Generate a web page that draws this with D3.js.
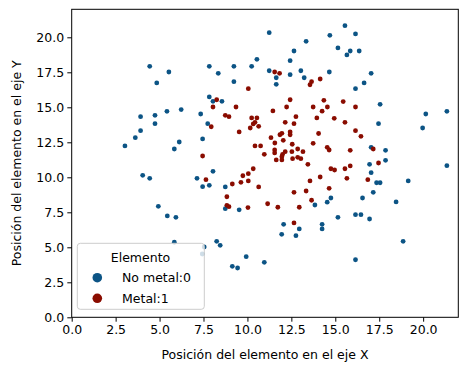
<!DOCTYPE html>
<html><head><meta charset="utf-8">
<script src="https://cdn.jsdelivr.net/npm/d3@7"></script>
<style>body{margin:0;background:#fff}svg{display:block}text{font-family:"DejaVu Sans",sans-serif}</style>
</head><body>
<script>
const xTicks=[0,2.5,5,7.5,10,12.5,15,17.5,20];
const yTicks=[0,2.5,5,7.5,10,12.5,15,17.5,20];
const legendLabels=["No metal:0","Metal:1"];
const noMetalX=[11.24,13.34,12.65,7.83,8.34,9.23,10.24,10.54,12.43,9.23,11.24,11.64,11.64,12.43,13.04,13.23,14.66,14.69,7.83,8.04,8.55,15.55,16.15,15.15,15.85,16.36,15.66,17.04,16.64,16.15,17.55,21.35,4.44,5.53,4.84,6.23,3.92,4.74,5.42,7.34,4.74,3.92,3.62,3.03,6.12,5.84,4.04,4.44,7.13,4.93,7.74,7.45,8.04,7.45,7.83,8.74,8.74,9.53,13.84,14.54,14.75,20.15,17.46,19.97,17.04,17.86,17.86,16.95,17.04,21.35,17.35,17.55,19.15,17.16,16.55,18.46,5.44,5.93,5.84,12.06,11.95,12.95,12.76,14.25,14.25,8.25,8.45,7.54,7.43,9.93,10.96,9.14,9.44,15.15,16.15,16.46,16.95,18.86,16.15];
const noMetalY=[20.33,19.71,19.02,17.93,17.43,17.93,17.93,18.43,18.33,16.83,17.61,17.11,16.64,17.33,17.61,17.11,17.52,20.14,15.74,15.43,15.43,20.83,20.24,19.24,19.02,19.02,18.74,17.43,16.74,16.33,15.21,14.71,17.93,17.52,16.74,14.84,14.33,14.43,14.71,14.52,13.83,13.33,12.83,12.24,12.52,12.02,10.14,9.93,9.93,7.93,13.83,12.74,10.43,9.33,9.43,9.31,7.76,7.68,8.02,8.22,8.52,14.52,13.83,13.52,12.14,11.93,11.21,10.93,10.33,10.83,9.61,9.61,9.74,8.93,8.52,8.24,7.24,7.14,5.36,6.64,5.93,6.31,5.83,6.64,6.31,5.43,5.14,5.02,4.52,4.33,3.93,3.64,3.52,7.14,7.33,7.33,7.02,5.43,4.11];
const metalX=[11.55,11.83,13.65,13.56,14.14,10.05,8.25,8.04,9.35,12.43,12.23,13.74,14.35,14.55,11.45,15.45,16.15,8.74,8.95,10.24,10.54,10.43,10.33,10.16,10.64,12.76,12.15,12.65,13.95,14.25,7.94,9.53,11.85,11.96,12.43,12.43,11.34,14.05,11.56,12.04,12.55,13.74,10.43,10.75,12.86,14.54,14.65,11.55,11.55,12.15,12.53,13.16,10.96,12.0,11.96,12.57,12.86,13.04,11.64,11.96,13.44,7.45,10.33,10.05,9.74,10.05,9.63,9.14,10.64,7.64,13.56,14.14,14.65,12.65,13.34,8.83,8.83,8.95,10.03,11.15,11.73,12.95,13.65,14.94,15.55,16.15,16.46,15.85,17.16,17.46,14.75,14.96,15.55,15.85,15.66,16.85,12.65];
const metalY=[17.52,17.43,16.83,16.61,17.02,16.33,15.54,15.02,15.02,15.54,15.02,15.02,15.5,15.02,14.74,15.41,15.02,14.43,14.33,14.24,14.24,13.93,13.81,13.52,13.64,14.33,13.93,13.83,14.24,14.72,13.61,13.24,13.04,13.14,13.24,13.04,12.83,13.13,12.45,12.64,12.36,12.43,12.24,12.24,12.02,12.14,11.95,11.95,11.74,11.83,11.83,11.83,11.64,11.64,11.47,11.33,11.43,11.33,11.24,11.24,10.93,11.52,10.61,10.26,10.11,9.74,9.64,9.52,9.31,9.83,9.74,10.02,9.21,8.93,9.02,8.61,8.0,7.9,7.84,8.11,7.86,7.86,8.36,14.21,13.93,13.33,12.93,11.93,12.02,11.02,10.61,10.52,10.61,10.81,9.93,9.83,6.74];
const colors=["#0c5485","#8a0c00"];

const W=468,H=371;
const m={l:71.7,r:458.3,t:9.3,b:317.3};
const svg=d3.select("body").append("svg").attr("width",W).attr("height",H);
const x=d3.scaleLinear().domain([0,22]).range([m.l,m.r]);
const y=d3.scaleLinear().domain([0,22]).range([m.b,m.t]);
const fs=12.5;
const fmt=d3.format(".1f");

const series=[{xs:noMetalX,ys:noMetalY,c:colors[0]},{xs:metalX,ys:metalY,c:colors[1]}];
const g=svg.append("g");
series.forEach(s=>{
  g.selectAll(null).data(s.xs.map((v,i)=>[v,s.ys[i]])).enter().append("circle")
   .attr("cx",d=>x(d[0])).attr("cy",d=>y(d[1])).attr("r",2.4).attr("fill",s.c);
});

const xa=svg.append("g").attr("transform",`translate(0,${m.b})`)
 .call(d3.axisBottom(x).tickValues(xTicks).tickFormat(fmt).tickSize(4.4).tickSizeOuter(0));
const ya=svg.append("g").attr("transform",`translate(${m.l},0)`)
 .call(d3.axisLeft(y).tickValues(yTicks).tickFormat(fmt).tickSize(4.4).tickSizeOuter(0));
[xa,ya].forEach(a=>{a.select(".domain").remove();a.selectAll("line").attr("stroke","#000").attr("stroke-width",1);
 a.selectAll("text").attr("font-size",fs).attr("fill","#000").attr("font-family","DejaVu Sans");});
xa.selectAll("text").attr("dy","0.71em").attr("y",7.5);
ya.selectAll("text").attr("x",-7.5);

svg.append("rect").attr("x",m.l).attr("y",m.t).attr("width",m.r-m.l).attr("height",m.b-m.t)
 .attr("fill","none").attr("stroke","#000").attr("stroke-width",1);

svg.append("text").attr("x",(m.l+m.r)/2).attr("y",359).attr("text-anchor","middle")
 .attr("font-size",fs).text("Posición del elemento en el eje X");
svg.append("text").attr("transform",`translate(21,${(m.t+m.b)/2}) rotate(-90)`).attr("text-anchor","middle")
 .attr("font-size",fs).text("Posición del elemento en el eje Y");

const lg=svg.append("g");
lg.append("rect").attr("x",77.3).attr("y",243.3).attr("width",127).attr("height",66).attr("rx",3)
 .attr("fill","#fff").attr("fill-opacity",0.8).attr("stroke","#ccc").attr("stroke-width",1);
lg.append("text").attr("x",140.5).attr("y",261.5).attr("text-anchor","middle").attr("font-size",fs).text("Elemento");
legendLabels.forEach((t,i)=>{
  const cy=277.7+i*20.6;
  lg.append("circle").attr("cx",97.3).attr("cy",cy).attr("r",4.8).attr("fill",colors[i]);
  lg.append("text").attr("x",122).attr("y",cy+4.4).attr("font-size",fs).text(t);
});
</script>
</body></html>
